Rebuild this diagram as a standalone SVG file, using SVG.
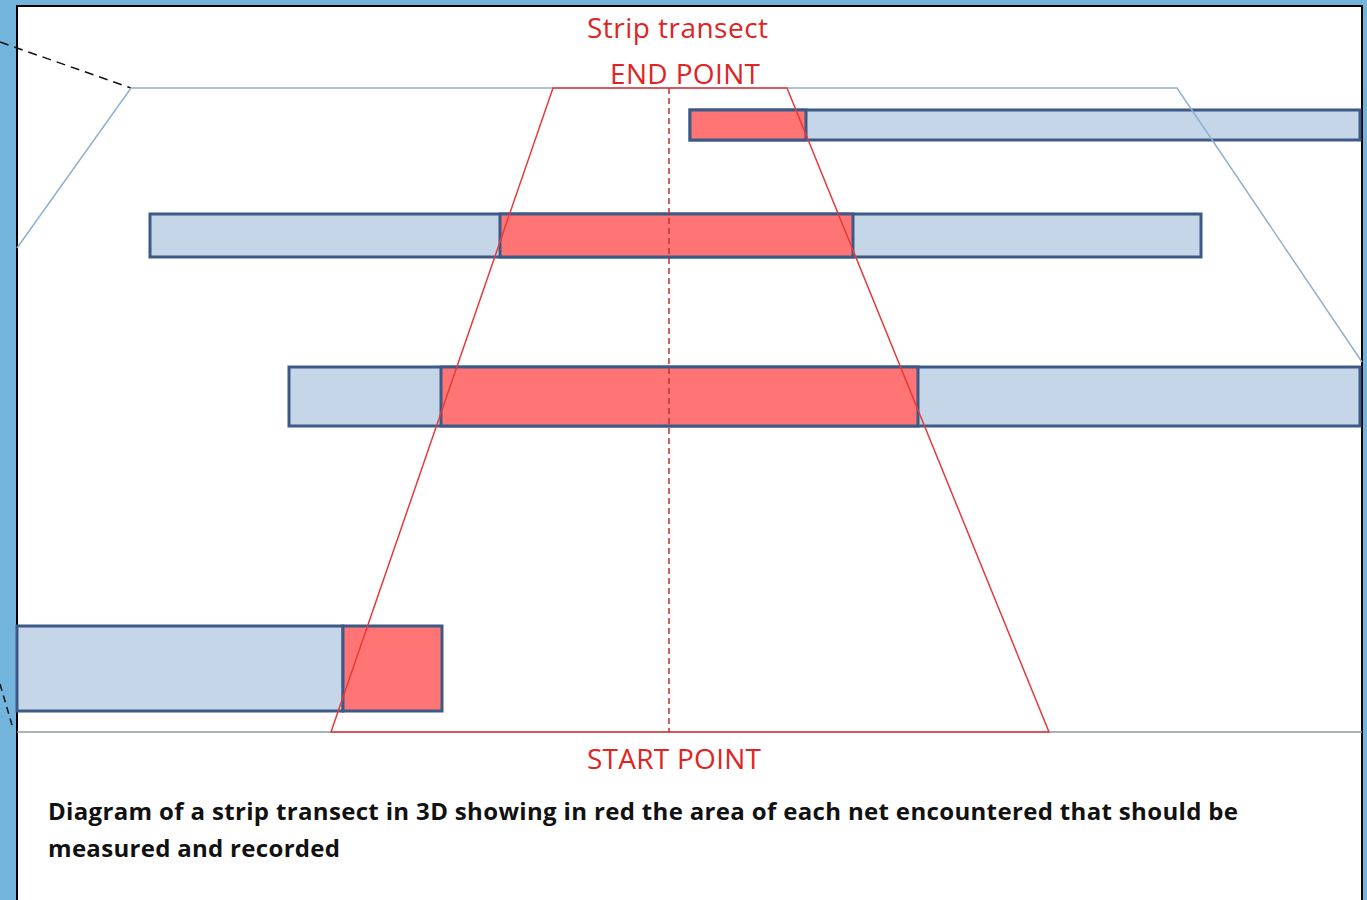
<svg xmlns="http://www.w3.org/2000/svg" width="1367" height="900" viewBox="0 0 1367 900">
<style>
.bar{stroke:#3d5a87;stroke-width:3}
.blue{fill:#c5d6e8}
.red{fill:#ff7575}
.rt{fill:#e02424;font-family:'Open Sans','Liberation Sans',sans-serif;font-size:28px}
.cap{fill:#111;font-family:'Open Sans','Liberation Sans',sans-serif;font-weight:bold;font-size:24px}
.plane{fill:none;stroke:#8fb0d0;stroke-width:1.5}
.tr{fill:none;stroke:#e53a3a;stroke-width:1.5}
</style>
<rect x="0" y="0" width="1367" height="900" fill="#72b4dc"/>
<rect x="17" y="6" width="1345" height="900" fill="#fff" stroke="#000" stroke-width="2"/>
<g id="dashes">
<line x1="0" y1="42" x2="131" y2="88" stroke="#111" stroke-width="1.5" stroke-dasharray="9,6"/>
<line x1="0" y1="684" x2="12" y2="725" stroke="#111" stroke-width="1.5" stroke-dasharray="7,5"/>
</g>
<g id="net4"><rect class="bar blue" x="17" y="626" width="326" height="85"/><rect class="bar red" x="343" y="626" width="99" height="85"/></g>
<g id="net3"><rect class="bar blue" x="289" y="367" width="1071" height="59"/><rect class="bar red" x="441" y="367" width="477" height="59"/></g>
<g id="net2"><rect class="bar blue" x="150" y="214" width="1051" height="43"/><rect class="bar red" x="500" y="214" width="353" height="43"/></g>
<g id="net1"><rect class="bar blue" x="690" y="110" width="670" height="30"/><rect class="bar red" x="690" y="110" width="116" height="30"/></g>
<g id="plane">
<polyline class="plane" points="17,248 131,88 1177,88 1362,362"/>
<line x1="17" y1="732" x2="1362" y2="732" stroke="#8a9aaa" stroke-width="1.5"/>
</g>
<g id="transect">
<polygon class="tr" points="553,88 787,88 1049,732 331,732"/>
<line x1="669" y1="88" x2="669" y2="732" stroke="#c03030" stroke-width="1.5" stroke-dasharray="6,4"/>
</g>
<g id="labels">
<text class="rt" x="587" y="38" textLength="181">Strip transect</text>
<text class="rt" x="610" y="84" textLength="150">END POINT</text>
<text class="rt" x="587" y="769" textLength="174">START POINT</text>
<text class="cap" x="48" y="820" textLength="1190">Diagram of a strip transect in 3D showing in red the area of each net encountered that should be</text>
<text class="cap" x="48" y="857" textLength="292">measured and recorded</text>
</g>
</svg>
